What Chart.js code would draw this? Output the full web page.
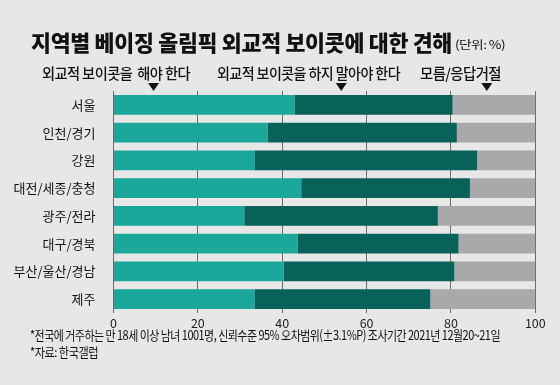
<!DOCTYPE html>
<html><head><meta charset="utf-8">
<script src="https://cdn.jsdelivr.net/npm/chart.js@4/dist/chart.umd.min.js"></script>
<style>
html,body{margin:0;padding:0;background:#e7e7e7;}
#wrap{position:relative;width:560px;height:385px;overflow:hidden;background:#e7e7e7;font-family:"Noto Sans CJK KR","Noto Sans",sans-serif;color:#111;}
canvas{position:absolute;left:0;top:0;}
.t{position:absolute;white-space:nowrap;transform-origin:0 0;}
#title{left:31px;top:26px;font-size:21.5px;font-weight:900;letter-spacing:-0.3px;color:#111;}
#unit{left:455px;top:36px;font-size:11.5px;font-weight:400;letter-spacing:-0.5px;}
.lg{top:62px;font-size:14.5px;font-weight:500;letter-spacing:-0.6px;color:#111;}
.fn{font-size:13px;font-weight:400;letter-spacing:-0.6px;color:#111;}
</style></head>
<body><div id="wrap">
<canvas id="c" width="560" height="385"></canvas>
<div class="t" id="title" data-w="421">지역별 베이징 올림픽 외교적 보이콧에 대한 견해</div>
<div class="t" id="unit" data-w="50">(단위: %)</div>
<div class="t lg" style="left:42px" data-w="148">외교적 보이콧을&nbsp; 해야 한다</div>
<div class="t lg" style="left:217px" data-w="183">외교적 보이콧을 하지 말아야 한다</div>
<div class="t lg" style="left:420px" data-w="81">모름/응답거절</div>
<div class="t fn" style="left:30px;top:325px" data-w="470">*전국에 거주하는 만 18세 이상 남녀 1001명, 신뢰수준 95% 오차범위(±3.1%P) 조사기간 2021년 12월20~21일</div>
<div class="t fn" style="left:30px;top:342px" data-w="68">*자료: 한국갤럽</div>
</div>
<script>
const regions = ['서울','인천/경기','강원','대전/세종/충청','광주/전라','대구/경북','부산/울산/경남','제주'];
const shouldBoycott = [42.9,36.5,33.4,44.5,31.0,43.7,40.4,33.4];
const shouldNot = [37.5,44.9,52.8,40.0,45.9,38.1,40.4,41.7];
const unknown = [19.6,18.6,13.8,15.5,23.1,18.2,19.2,24.9];
const seriesNames = ['외교적 보이콧을 해야 한다','외교적 보이콧을 하지 말아야 한다','모름/응답거절'];
const xTicks = [0,20,40,60,80,100];
const markerValues = [9.5,54,88.5];

document.querySelectorAll('[data-w]').forEach(el=>{
  const w = el.getBoundingClientRect().width;
  const target = parseFloat(el.dataset.w);
  el.style.transform = 'scaleX(' + (target/w) + ')';
});

const markers = {
  id:'markers',
  afterDraw(chart){
    const ctx = chart.ctx, xs = chart.scales.x;
    ctx.save(); ctx.fillStyle='#111';
    markerValues.forEach(v=>{
      const x = xs.getPixelForValue(v);
      ctx.beginPath(); ctx.moveTo(x-5.5,83); ctx.lineTo(x+5.5,83); ctx.lineTo(x,91); ctx.closePath(); ctx.fill();
    });
    ctx.restore();
  }
};

new Chart(document.getElementById('c'),{
  type:'bar',
  data:{labels:regions,datasets:[
    {label:seriesNames[0],data:shouldBoycott,backgroundColor:'#1ba79a'},
    {label:seriesNames[1],data:shouldNot,backgroundColor:'#08625a'},
    {label:seriesNames[2],data:unknown,backgroundColor:'#a9a9ab'}
  ]},
  options:{
    indexAxis:'y',responsive:false,animation:false,
    layout:{padding:{left:0,right:24.7,top:91,bottom:52}},
    datasets:{bar:{categoryPercentage:1,barPercentage:0.72,borderWidth:0}},
    plugins:{legend:{display:false},title:{display:false},tooltip:{enabled:false}},
    scales:{
      x:{stacked:true,min:0,max:100,
        afterBuildTicks(s){s.ticks=xTicks.map(v=>({value:v}));},
        afterFit(s){s.height=20;},
        grid:{color:'#6a6a6a',lineWidth:1,drawTicks:false},
        border:{display:false},
        ticks:{padding:3,color:'#222',font:{family:'"Noto Sans CJK KR","Noto Sans",sans-serif',size:12.5}}},
      y:{stacked:true,
        afterFit(s){s.width=113.5;},
        grid:{display:false},border:{display:false},
        ticks:{padding:10,color:'#111',font:{family:'"Noto Sans CJK KR","Noto Sans",sans-serif',size:13}}}
    }
  },
  plugins:[markers]
});
</script>
</body></html>
